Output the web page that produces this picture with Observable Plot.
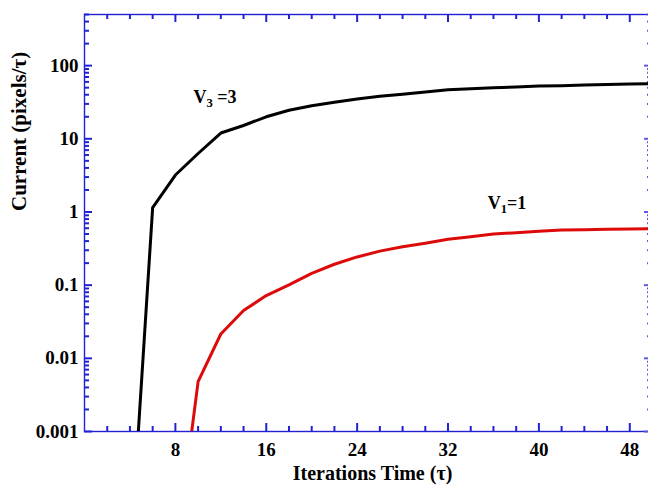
<!DOCTYPE html>
<html>
<head>
<meta charset="utf-8">
<script src="https://cdn.jsdelivr.net/npm/d3@7"></script>
<script src="https://cdn.jsdelivr.net/npm/@observablehq/plot@0.6"></script>
<style>
  html, body { margin: 0; padding: 0; background: #fff; overflow: hidden; }
  #chart { width: 648px; height: 485px; overflow: hidden; }
</style>
</head>
<body>
<div id="chart"></div>
<script>
// ---- data ----
const v3X = [4, 6, 8, 10, 12, 14, 16, 18, 20, 22, 24, 26, 28, 30, 32, 34, 36, 38, 40, 42, 44, 46, 48, 50];
const v3Y = [1.6e-5, 1.15, 3.2, 6.3, 12, 15.2, 20, 24.6, 28.3, 31.5, 35, 38.1, 40.8, 43.7, 47, 48.5, 49.8, 51.1, 52.5, 53.3, 54.3, 55.2, 56.1, 56.6];

const v1X = [8, 10, 12, 14, 16, 18, 20, 22, 24, 26, 28, 30, 32, 34, 36, 38, 40, 42, 44, 46, 48, 50];
const v1Y = [1.8e-5, 0.0048, 0.0215, 0.045, 0.072, 0.101, 0.145, 0.193, 0.243, 0.292, 0.335, 0.375, 0.425, 0.46, 0.50, 0.52, 0.545, 0.566, 0.573, 0.58, 0.587, 0.59];

const xMajorTicks = [8, 16, 24, 32, 40, 48];
const xMinorTicks = [2, 4, 6, 10, 12, 14, 18, 20, 22, 26, 28, 30, 34, 36, 38, 42, 44, 46, 50];
const yMajorTicks = [0.001, 0.01, 0.1, 1, 10, 100];
const yTickLabels = ["0.001", "0.01", "0.1", "1", "10", "100"];
const yMinorTicks = [0.002, 0.003, 0.004, 0.005, 0.006, 0.007, 0.008, 0.009,
  0.02, 0.03, 0.04, 0.05, 0.06, 0.07, 0.08, 0.09,
  0.2, 0.3, 0.4, 0.5, 0.6, 0.7, 0.8, 0.9,
  2, 3, 4, 5, 6, 7, 8, 9,
  20, 30, 40, 50, 60, 70, 80, 90,
  200, 300, 400, 500];

const labelBase = ["V", "V"];
const labelSub = ["3", "1"];
const labelRest = [" =3", "=1"];
const labelX = [9.6, 35.5];
const labelY = [30.8, 1.1];

const xTitle = "Iterations Time (\u03C4)";
const yTitle = "Current (pixels/\u03C4)";

// ---- layout & styles ----
const W = 648, H = 485;
const mL = 84, mR = -4, mT = 14, mB = 54;
const frameW = W - mL - mR, frameH = H - mT - mB;
const blue = "#2222d4";
const blueLight = "#5a5ae4";
const minorLen = 5, majorLen = 8;
const tickW = 2;

const v3 = v3X.map((x, i) => ({x, y: v3Y[i]}));
const v1 = v1X.map((x, i) => ({x, y: v1Y[i]}));
const labelIdx = labelBase.map((_, i) => i);
const labelFull = labelIdx.map(i => labelBase[i] + labelSub[i] + labelRest[i]);

const chart = Plot.plot({
  width: W, height: H,
  marginLeft: mL, marginRight: mR, marginTop: mT, marginBottom: mB,
  style: {fontFamily: "'Liberation Serif', 'Times New Roman', serif", fontWeight: "bold", fontSize: "19px", background: "white", color: "black", overflow: "hidden"},
  x: {domain: [0, 50]},
  y: {type: "log", domain: [0.001, 500]},
  marks: [
    Plot.frame({stroke: blue, strokeWidth: 1.4}),
    // ticks on all four sides, pointing inward
    Plot.ruleX(xMinorTicks, {x: d => d, insetTop: frameH - minorLen, stroke: blue, strokeWidth: tickW}),
    Plot.ruleX(xMajorTicks, {x: d => d, insetTop: frameH - majorLen, stroke: blue, strokeWidth: tickW}),
    Plot.ruleX(xMinorTicks, {x: d => d, insetBottom: frameH - minorLen, stroke: blue, strokeWidth: tickW}),
    Plot.ruleX(xMajorTicks, {x: d => d, insetBottom: frameH - majorLen, stroke: blue, strokeWidth: tickW}),
    Plot.ruleY(yMinorTicks, {y: d => d, insetRight: frameW - minorLen, stroke: blue, strokeWidth: tickW}),
    Plot.ruleY(yMajorTicks, {y: d => d, insetRight: frameW - majorLen, stroke: blue, strokeWidth: tickW}),
    Plot.ruleY(yMinorTicks, {y: d => d, insetLeft: frameW - minorLen, stroke: blueLight, strokeWidth: tickW}),
    Plot.ruleY(yMajorTicks, {y: d => d, insetLeft: frameW - majorLen, stroke: blueLight, strokeWidth: tickW}),
    // tick labels
    Plot.axisX(xMajorTicks, {anchor: "bottom", tickSize: 0, tickPadding: 11, fill: "black", stroke: "none", label: null, tickFormat: d => String(d)}),
    Plot.axisY(yMajorTicks, {anchor: "left", tickSize: 0, tickPadding: 6, fill: "black", stroke: "none", label: null, tickFormat: d => yTickLabels[yMajorTicks.indexOf(d)]}),
    // curves
    Plot.line(v3, {x: "x", y: "y", stroke: "black", strokeWidth: 3, clip: true}),
    Plot.line(v1, {x: "x", y: "y", stroke: "#dd0a0a", strokeWidth: 3, clip: true}),
    // curve labels
    Plot.text(labelIdx, {x: i => labelX[i], y: i => labelY[i], text: i => labelFull[i], fill: "black", textAnchor: "start", lineAnchor: "bottom", fontSize: 18}),
    // axis titles
    Plot.text([xTitle], {frameAnchor: "bottom", dx: 4, dy: 48, lineAnchor: "bottom", fontSize: 20, fill: "black"}),
    Plot.text([yTitle], {frameAnchor: "left", dx: -65, dy: -12, rotate: -90, lineAnchor: "middle", fontSize: 21, fill: "black"})
  ]
});

// subscripts in curve labels
d3.select(chart).selectAll("text").each(function() {
  const j = labelFull.indexOf(this.textContent);
  if (j < 0) return;
  const t = d3.select(this);
  t.text(null);
  t.append("tspan").text(labelBase[j]);
  t.append("tspan").attr("dy", "0.3em").attr("font-size", "0.7em").text(labelSub[j]);
  t.append("tspan").attr("dy", "-0.21em").text(labelRest[j]);
});

document.getElementById("chart").appendChild(chart);
</script>
</body>
</html>
